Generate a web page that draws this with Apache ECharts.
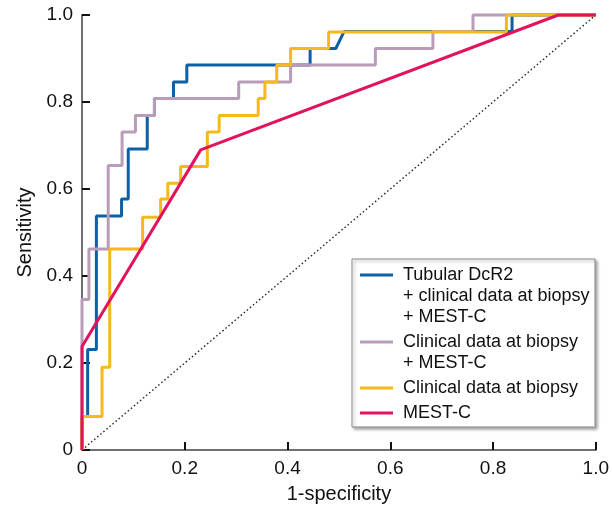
<!DOCTYPE html>
<html>
<head>
<meta charset="utf-8">
<style>html,body{margin:0;padding:0;background:#fff;}#c{width:612px;height:509px;}</style>
<script src="https://cdn.jsdelivr.net/npm/echarts@6/dist/echarts.min.js"></script>
</head>
<body>
<div id="c"></div>
<script>
// ---- data (1-specificity, sensitivity) ----
const seriesNames = [
  'Tubular DcR2\n+ clinical data at biopsy\n+ MEST-C',
  'Clinical data at biopsy\n+ MEST-C',
  'Clinical data at biopsy',
  'MEST-C'
];
const tubularDcR2 = [[0,0],[0,0.077],[0.011,0.077],[0.011,0.231],[0.028,0.231],[0.028,0.538],[0.077,0.538],[0.077,0.577],[0.09,0.577],[0.09,0.692],[0.127,0.692],[0.127,0.769],[0.141,0.769],[0.141,0.808],[0.178,0.808],[0.178,0.846],[0.204,0.846],[0.204,0.885],[0.444,0.885],[0.444,0.923],[0.494,0.923],[0.51,0.962],[0.837,0.962],[0.837,1],[1,1]];
const clinicalMest = [[0,0],[0,0.346],[0.0135,0.346],[0.0135,0.462],[0.051,0.462],[0.051,0.654],[0.078,0.654],[0.078,0.731],[0.104,0.731],[0.104,0.769],[0.141,0.769],[0.141,0.808],[0.305,0.808],[0.305,0.846],[0.406,0.846],[0.406,0.885],[0.571,0.885],[0.571,0.923],[0.683,0.923],[0.683,0.962],[0.761,0.962],[0.761,1],[1,1]];
const clinicalOnly = [[0,0],[0,0.077],[0.039,0.077],[0.039,0.19],[0.054,0.19],[0.054,0.462],[0.118,0.462],[0.118,0.535],[0.153,0.535],[0.153,0.577],[0.167,0.577],[0.167,0.613],[0.192,0.613],[0.192,0.652],[0.244,0.652],[0.244,0.731],[0.267,0.731],[0.267,0.769],[0.343,0.769],[0.343,0.808],[0.356,0.808],[0.356,0.846],[0.379,0.846],[0.379,0.885],[0.406,0.885],[0.406,0.923],[0.48,0.923],[0.48,0.961],[0.826,0.961],[0.826,1],[1,1]];
const mestC = [[0,0],[0,0.238],[0.231,0.69],[0.927,1],[1,1]];
const reference = [[0,0],[1,1]];
const tickValues = [0, 0.2, 0.4, 0.6, 0.8, 1.0];
const tickLabels = ['0', '0.2', '0.4', '0.6', '0.8', '1.0'];

const colors = ['#0d5fa6', '#b99cb9', '#f7b81c', '#e2125d'];
const FONT = '"Liberation Sans", Arial, sans-serif';

const chart = echarts.init(document.getElementById('c'), null, {renderer: 'canvas'});

function labelFor(v) {
  const i = tickValues.findIndex(t => Math.abs(t - v) < 1e-6);
  return i >= 0 ? tickLabels[i] : '';
}

function axis(name, gap) {
  return {
    type: 'value', min: 0, max: 1, interval: 0.2,
    name: name, nameLocation: 'middle', nameGap: gap,
    nameTextStyle: {fontFamily: FONT, fontSize: 20, color: '#111'},
    axisLine: {show: true, lineStyle: {color: '#707070', width: 2}},
    axisTick: {show: true, inside: true, length: 8, lineStyle: {color: '#111', width: 2}},
    axisLabel: {fontFamily: FONT, fontSize: 19, color: '#111', margin: 9, formatter: labelFor},
    splitLine: {show: false}
  };
}

// legend built from names/colors
const legendLines = [
  {icon: true, text: 'Tubular DcR2', y: 275, c: 0},
  {icon: false, text: '+ clinical data at biopsy', y: 296},
  {icon: false, text: '+ MEST-C', y: 317},
  {icon: true, text: 'Clinical data at biopsy', y: 342, c: 1},
  {icon: false, text: '+ MEST-C', y: 363},
  {icon: true, text: 'Clinical data at biopsy', y: 388, c: 2},
  {icon: true, text: 'MEST-C', y: 413, c: 3}
];
const graphic = [{
  type: 'rect', shape: {x: 352, y: 259, width: 243, height: 168},
  style: {fill: '#fff', stroke: '#8a8a8a', lineWidth: 1, shadowColor: 'rgba(0,0,0,0.35)', shadowBlur: 3, shadowOffsetX: 2, shadowOffsetY: 2},
  z: 100
}];
legendLines.forEach(l => {
  if (l.icon) {
    graphic.push({type: 'line', shape: {x1: 360, y1: l.y, x2: 393, y2: l.y},
      style: {stroke: colors[l.c], lineWidth: 3}, z: 101});
  }
  graphic.push({type: 'text', x: 403, y: l.y,
    style: {text: l.text, fontFamily: FONT, fontSize: 18, fill: '#111', verticalAlign: 'middle', align: 'left'}, z: 101});
});

const dataSets = [tubularDcR2, clinicalMest, clinicalOnly, mestC];
const series = dataSets.map((d, i) => ({
  type: 'line', name: seriesNames[i], data: d, showSymbol: false, symbol: 'none',
  lineStyle: {color: colors[i], width: 3}, itemStyle: {color: colors[i]},
  z: 3 + i, animation: false, silent: true, clip: false
}));
series.unshift({
  type: 'line', name: 'reference', data: reference, showSymbol: false, symbol: 'none',
  lineStyle: {color: '#222', width: 1.4, type: [1.5, 2.5]}, z: 2, animation: false, silent: true
});

chart.setOption({
  animation: false,
  backgroundColor: '#fff',
  grid: {left: 82, right: 14, top: 15, bottom: 58, containLabel: false},
  xAxis: axis('1-specificity', 34),
  yAxis: axis('Sensitivity', 46),
  series: series,
  graphic: graphic
});
</script>
</body>
</html>
